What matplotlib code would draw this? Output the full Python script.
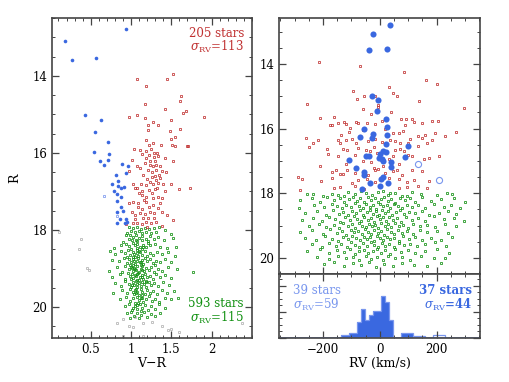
import numpy as np
import matplotlib
matplotlib.use("Agg")
from matplotlib import pyplot as plt
from matplotlib.ticker import MultipleLocator

plt.rcParams['font.family'] = ['DejaVu Serif']
plt.rcParams['mathtext.fontset'] = 'dejavuserif'

RED = '#c03030'
GREEN = '#109010'
BLUE = '#3a68e0'
LBLUE = '#7896ee'
GREY = '#a8a8a8'
AXC = '#444444'

# ---- left panel: colour-magnitude diagram (V-R, R) ----
cmd_red = [(1.07,14.09),(1.45,14.08),(1.52,13.95),(1.19,14.26),(1.62,14.52),(1.61,14.64),(1.17,14.74),
           (1.42,14.86),(1.68,14.91),(1.64,14.97),(0.98,15.06),(1.08,15.01),(1.17,15.09),(1.49,15.14),
           (1.91,15.06),(1.27,15.2),(1.21,15.28),(1.34,15.28),(1.21,15.4),(1.48,15.44),(1.61,15.39),
           (1.55,15.59),(1.18,15.67),(1.27,15.73),(1.5,15.65),(1.22,15.8),(1.37,15.8),(1.51,15.8),
           (1.55,15.82),(1.69,15.81),(1.71,15.83),(1.04,15.9),(1.11,15.92),(1.18,15.94),(1.25,15.9),
           (1.29,15.99),(1.32,16.0),(1.01,16.18),(1.14,16.04),(1.22,16.05),(1.28,16.1),(1.34,16.07),
           (1.42,16.14),(1.52,16.21),(1.07,16.33),(1.17,16.27),(1.23,16.31),(1.27,16.35),(1.31,16.32),
           (1.36,16.34),(1.11,16.4),(1.21,16.44),(1.26,16.5),(1.31,16.44),(1.38,16.48),(1.43,16.5),
           (0.97,16.48),(1.15,16.57),(1.3,16.61),(1.35,16.57),(1.31,16.7),(1.03,16.81),(1.12,16.8),
           (1.19,16.84),(1.27,16.81),(1.34,16.77),(1.4,16.81),(1.5,16.81),(1.05,16.92),(1.07,16.9),
           (1.14,17.0),(1.22,16.96),(1.3,16.94),(1.6,16.94),(1.73,16.92),(1.13,17.09),(1.19,17.13),
           (1.34,17.15),(1.38,17.18),(0.97,17.29),(1.03,17.26),(1.09,17.31),(1.19,17.26),(1.27,17.18),
           (1.36,17.31),(1.27,17.35),(1.01,17.52),(1.05,17.61),(1.11,17.57),(1.17,17.58),(1.23,17.52),
           (1.29,17.57),(1.39,17.52),(1.02,17.83),(1.07,17.81),(1.13,17.84),(1.19,17.8),(1.25,17.83),
           (1.31,17.78),(1.38,17.9),(1.52,17.74),(1.05,17.72),(1.21,17.7),(0.94,17.84),(1.24,16.2),
           (1.19,16.12),(1.3,16.22),(1.26,16.62),(1.2,16.68),(1.24,16.75),(1.36,16.66),(1.1,17.05),
           (1.26,17.05),(1.16,17.22),(1.22,17.4),(1.14,17.45),(1.33,17.43),(1.28,17.7),(1.15,17.68),
           (1.09,17.4),(1.45,17.62),(1.2,17.92),(1.32,16.9),(1.42,17.0)]

cmd_green = [(0.98,17.92),(1.03,17.95),(1.08,17.93),(1.12,17.97),(1.17,17.94),(1.22,17.98),(1.28,17.95),
             (1.35,17.93),(1.0,18.02),(1.05,18.05),(1.1,18.03),(1.14,18.07),(1.19,18.04),(1.25,18.08),
             (1.31,18.06),(0.95,18.08),(1.42,18.01),(1.49,18.09),
             (0.94,18.14),(0.99,18.12),(1.03,18.18),(1.06,18.13),(1.1,18.2),(1.14,18.15),(1.18,18.22),
             (1.23,18.16),(1.28,18.24),(1.34,18.18),(1.41,18.25),(1.01,18.26),(1.08,18.28),(1.13,18.27),
             (0.97,18.22),(1.21,18.29),(1.52,18.2),(0.9,18.3),(1.06,18.25),
             (0.88,18.38),(0.94,18.35),(0.98,18.42),(1.02,18.33),(1.05,18.4),(1.08,18.36),(1.11,18.44),
             (1.15,18.38),(1.19,18.45),(1.24,18.4),(1.3,18.35),(1.36,18.43),(1.44,18.46),(1.0,18.48),
             (1.07,18.47),(1.14,18.49),(1.21,18.34),(0.79,18.46),(1.56,18.44),(1.15,18.45),
             (0.8,18.62),(0.88,18.55),(0.92,18.6),(0.96,18.53),(0.99,18.66),(1.02,18.57),(1.04,18.62),
             (1.07,18.53),(1.09,18.67),(1.11,18.58),(1.14,18.64),(1.17,18.55),(1.2,18.68),(1.23,18.6),
             (1.27,18.65),(1.32,18.57),(1.38,18.63),(1.46,18.58),(1.55,18.68),(1.03,18.69),(1.08,18.6),
             (0.95,18.69),(0.74,18.55),(1.1,18.55),(1.05,18.7),
             (0.76,18.77),(0.85,18.8),(0.91,18.73),(0.95,18.85),(0.98,18.76),(1.0,18.82),(1.03,18.74),
             (1.05,18.88),(1.07,18.79),(1.09,18.72),(1.11,18.84),(1.13,18.77),(1.15,18.89),(1.17,18.73),
             (1.2,18.81),(1.23,18.76),(1.27,18.86),(1.31,18.79),(1.36,18.84),(1.42,18.75),(1.5,18.82),
             (1.04,18.81),(1.12,18.83),(0.99,18.9),(1.3,18.9),(1.12,18.9),(1.02,18.9),
             (0.73,19.05),(0.82,18.97),(0.89,19.08),(0.93,18.93),(0.97,19.02),(1.0,18.95),(1.02,19.07),
             (1.04,18.98),(1.06,19.04),(1.08,18.92),(1.1,19.09),(1.12,19.0),(1.14,18.94),(1.16,19.06),
             (1.19,18.98),(1.22,19.03),(1.25,18.95),(1.29,19.08),(1.33,19.0),(1.39,19.05),(1.46,18.96),
             (1.57,19.02),(1.77,19.08),(1.05,19.01),(1.13,19.03),(1.01,18.99),
             (0.76,19.22),(0.86,19.15),(0.92,19.27),(0.96,19.12),(0.99,19.2),(1.01,19.14),(1.03,19.25),
             (1.05,19.17),(1.07,19.29),(1.09,19.12),(1.11,19.21),(1.13,19.16),(1.15,19.27),(1.17,19.13),
             (1.2,19.23),(1.23,19.18),(1.27,19.26),(1.31,19.14),(1.36,19.22),(1.42,19.17),(1.5,19.25),
             (1.06,19.2),(1.14,19.22),(1.0,19.28),(1.08,19.15),(1.1,19.3),
             (0.8,19.38),(0.88,19.45),(0.93,19.33),(0.97,19.4),(1.0,19.47),(1.02,19.35),(1.04,19.42),
             (1.06,19.32),(1.08,19.48),(1.1,19.38),(1.12,19.44),(1.14,19.34),(1.16,19.41),(1.19,19.47),
             (1.22,19.36),(1.25,19.43),(1.29,19.38),(1.34,19.46),(1.4,19.35),(1.47,19.42),(1.07,19.4),
             (1.18,19.31),(1.01,19.43),(1.18,19.35),
             (0.78,19.62),(0.89,19.55),(0.95,19.63),(0.99,19.52),(1.02,19.6),(1.04,19.67),(1.06,19.54),
             (1.08,19.61),(1.1,19.68),(1.12,19.53),(1.14,19.6),(1.17,19.66),(1.2,19.55),(1.23,19.63),
             (1.27,19.58),(1.32,19.67),(1.38,19.56),(1.45,19.64),(1.53,19.57),(1.06,19.64),(1.13,19.69),
             (1.05,19.55),
             (0.86,19.8),(0.94,19.74),(0.99,19.85),(1.02,19.77),(1.05,19.88),(1.07,19.73),(1.1,19.82),
             (1.12,19.76),(1.15,19.87),(1.18,19.79),(1.22,19.72),(1.26,19.84),(1.3,19.78),(1.35,19.86),
             (1.42,19.75),(1.5,19.8),(1.58,19.77),(1.09,19.89),(1.14,19.75),
             (0.92,19.98),(0.98,19.93),(1.02,20.03),(1.05,19.96),(1.08,20.06),(1.11,19.92),(1.14,20.01),
             (1.17,19.95),(1.21,20.07),(1.25,19.97),(1.3,20.04),(1.35,19.93),(1.42,20.02),(1.01,20.08),
             (1.12,20.09),(1.07,19.95),
             (0.95,20.16),(1.0,20.12),(1.04,20.22),(1.08,20.14),(1.12,20.2),(1.16,20.13),(1.2,20.25),
             (1.25,20.17),(1.3,20.23),(1.36,20.15),(1.1,20.27),(0.99,20.28)]

cmd_blue = [(0.18,13.1),(0.27,13.59),(0.57,13.54),(0.94,12.79),(0.43,15.01),(0.63,15.14),(0.55,15.46),
            (0.71,15.72),(0.54,15.97),(0.73,16.03),(0.62,16.2),(0.71,16.18),(0.66,16.32),(0.89,16.29),
            (0.96,16.33),(0.94,16.51),(0.81,16.57),(0.84,16.72),(0.76,16.81),(0.84,16.87),(0.88,16.92),
            (0.91,16.89),(0.79,16.99),(0.82,17.07),(0.87,17.13),(0.83,17.25),(0.88,17.39),(0.82,17.52),
            (0.9,17.5),(0.86,17.72),(0.94,17.72),(0.92,17.83),(0.95,17.78),(0.83,17.81)]
cmd_blue_open = [(0.67,17.12),(0.82,17.64)]

cmd_grey = [(0.11,18.05),(0.38,18.22),(0.35,18.5),(0.45,18.98),(0.48,19.04),(0.82,20.4),(0.9,20.32),
            (0.97,20.48),(1.03,20.51),(1.15,20.42),(1.26,20.38),(1.38,20.48),(1.46,20.58),(1.5,20.57),
            (1.6,20.64),(2.38,20.41),(0.9,20.74),(1.15,20.74),(1.05,20.25)]

# ---- right panel: radial velocity vs R ----
rv_red = [(-215,13.94),(-68,14.07),(87,14.26),(162,14.5),(200,14.63),(32,14.72),(-93,14.85),(-55,15.0),
          (-16,14.99),(48,14.9),(62,15.0),(138,15.16),(-257,15.24),(295,15.37),(-80,15.08),(-7,15.27),
          (-7,15.33),(-161,15.64),(-210,15.67),(-148,15.83),(-175,15.88),(-167,15.9),(-126,15.8),
          (-119,15.86),(-85,15.8),(-78,15.82),(-46,15.83),(-16,15.86),(7,15.76),(25,15.7),(74,15.7),
          (94,15.7),(115,15.7),(89,15.88),(122,15.8),(148,15.83),(183,15.78),(204,15.78),(269,16.12),
          (-105,15.98),(-138,16.19),(-261,16.29),(-234,16.45),(-216,16.34),(-148,16.36),(-141,16.45),
          (-120,16.34),(-99,16.32),(-85,16.45),(-40,16.39),(-16,16.32),(7,16.43),(36,16.34),(54,16.39),
          (66,16.14),(48,16.14),(83,16.09),(107,16.32),(101,16.45),(72,16.45),(136,16.24),(148,16.29),
          (160,16.19),(183,16.34),(166,16.45),(195,16.14),(230,16.24),(-249,16.57),(-187,16.63),
          (-131,16.63),(-116,16.67),(-75,16.6),(-49,16.65),(-22,16.57),(54,16.67),(72,16.63),(136,16.55),
          (-181,16.78),(-146,16.86),(-89,16.81),(-11,16.75),(-5,16.91),(31,16.94),(48,16.86),(101,16.81),
          (115,16.86),(154,16.94),(174,16.91),(207,16.86),(-210,17.15),(-169,17.35),(-155,17.27),
          (-128,17.42),(-87,17.37),(-22,17.22),(-16,17.27),(-7,17.25),(13,17.17),(48,17.32),(60,17.29),
          (66,17.11),(113,17.27),(-116,17.27),(-75,17.58),(-99,17.68),(-46,17.56),(-16,17.66),(31,17.53),
          (66,17.56),(95,17.66),(119,17.58),(-287,17.5),(-275,17.56),(-207,17.61),(-169,17.53),
          (-140,17.42),(-163,17.84),(-140,17.8),(-281,17.89),(-87,17.78),(-54,17.87),(66,17.84),
          (96,17.8),(136,17.78),(166,17.84),(172,17.63),(-60,15.4),(-30,15.55),(40,15.5),(-110,16.1),
          (-60,16.05),(20,16.02),(-35,16.7),(85,16.7),(-60,17.0),(-30,17.05),(20,17.38),(-40,17.45),
          (80,17.45),(-120,17.1),(150,17.3)]

rv_green = [(-236,18.04),(-169,18.02),(-148,18.06),(-113,17.96),(-87,18.03),(-49,17.98),(-28,18.07),
            (-5,17.95),(28,18.05),(54,17.99),(80,18.08),(115,17.97),(146,18.04),(202,18.06),(236,17.98),
            (254,18.03),(-257,18.02),(-200,18.08),(-125,18.09),(-65,17.93),(10,17.94),(36,18.0),(95,18.09),
            (-280,18.22),(-240,18.15),(-210,18.27),(-185,18.12),(-160,18.2),(-140,18.14),(-125,18.26),
            (-110,18.18),(-95,18.12),(-80,18.24),(-68,18.16),(-55,18.28),(-42,18.13),(-30,18.21),
            (-18,18.15),(-6,18.27),(5,18.18),(16,18.12),(28,18.24),(40,18.17),(55,18.29),(70,18.14),
            (88,18.22),(105,18.16),(125,18.26),(150,18.13),(180,18.23),(215,18.18),(262,18.14),(301,18.28),
            (-285,18.47),(-230,18.36),(-195,18.44),(-170,18.33),(-150,18.41),(-132,18.47),(-118,18.35),
            (-100,18.43),(-86,18.31),(-74,18.39),(-60,18.46),(-48,18.34),(-36,18.42),(-24,18.37),
            (-12,18.48),(0,18.33),(12,18.41),(24,18.36),(36,18.45),(50,18.32),(64,18.4),(78,18.47),
            (96,18.35),(115,18.43),(135,18.38),(160,18.46),(190,18.34),(225,18.42),(250,18.37),(283,18.45),
            (-262,18.6),(-220,18.55),(-190,18.67),(-165,18.52),(-145,18.63),(-128,18.57),(-112,18.68),
            (-98,18.54),(-84,18.62),(-70,18.51),(-58,18.66),(-46,18.58),(-35,18.53),(-24,18.64),
            (-13,18.56),(-3,18.69),(8,18.52),(19,18.61),(30,18.55),(42,18.67),(56,18.59),(70,18.53),
            (86,18.65),(104,18.57),(125,18.62),(150,18.54),(175,18.66),(210,18.6),(240,18.55),(270,18.63),
            (-275,18.82),(-235,18.76),(-205,18.87),(-180,18.73),(-158,18.81),(-140,18.88),(-122,18.75),
            (-106,18.84),(-92,18.71),(-79,18.79),(-66,18.86),(-54,18.74),(-43,18.83),(-32,18.77),
            (-21,18.89),(-10,18.72),(0,18.8),(11,18.75),(22,18.86),(34,18.73),(46,18.82),(60,18.78),
            (75,18.88),(92,18.74),(112,18.83),(135,18.77),(160,18.86),(190,18.72),(225,18.81),(262,18.78),
            (295,18.85),
            (-250,19.0),(-215,18.94),(-188,19.06),(-162,18.97),(-145,19.08),(-128,18.93),(-113,19.02),
            (-99,18.96),(-86,19.07),(-73,18.92),(-61,19.0),(-49,19.05),(-38,18.94),(-27,19.03),(-16,18.98),
            (-5,19.08),(6,18.93),(17,19.01),(28,18.96),(40,19.06),(52,18.91),(66,19.02),(81,18.97),
            (98,19.07),(118,18.95),(140,19.03),(165,18.99),(195,19.05),(230,18.94),(270,19.02),
            (-281,19.2),(-238,19.15),(-200,19.26),(-175,19.12),(-152,19.22),(-134,19.17),(-118,19.28),
            (-103,19.13),(-90,19.21),(-77,19.16),(-64,19.27),(-52,19.11),(-41,19.19),(-30,19.25),
            (-19,19.14),(-8,19.22),(3,19.17),(14,19.28),(26,19.12),(38,19.2),(51,19.26),(65,19.15),
            (80,19.23),(97,19.18),(117,19.27),(140,19.13),(168,19.21),(200,19.16),(240,19.24),
            (-265,19.38),(-225,19.45),(-192,19.33),(-168,19.41),(-146,19.47),(-128,19.35),(-112,19.43),
            (-97,19.31),(-83,19.39),(-70,19.46),(-57,19.34),(-45,19.42),(-33,19.37),(-21,19.48),
            (-10,19.32),(1,19.4),(12,19.45),(24,19.35),(37,19.43),(51,19.38),(66,19.47),(83,19.33),
            (102,19.41),(125,19.36),(150,19.44),(180,19.39),(215,19.46),(255,19.34),
            (-240,19.58),(-205,19.65),(-178,19.53),(-155,19.62),(-135,19.56),(-117,19.67),(-101,19.52),
            (-86,19.6),(-72,19.66),(-58,19.55),(-45,19.63),(-32,19.51),(-19,19.59),(-6,19.68),(7,19.54),
            (20,19.62),(34,19.57),(49,19.66),(66,19.53),(85,19.61),(108,19.56),(132,19.64),(160,19.58),
            (195,19.52),(235,19.62),
            (-255,19.8),(-210,19.74),(-180,19.86),(-150,19.77),(-126,19.83),(-105,19.72),(-88,19.88),
            (-72,19.79),(-56,19.75),(-40,19.85),(-25,19.78),(-10,19.73),(5,19.84),(20,19.77),(37,19.87),
            (55,19.74),(75,19.82),(98,19.76),(125,19.86),(158,19.79),(200,19.73),(245,19.84),
            (-220,19.97),(-180,20.05),(-148,19.93),(-120,20.02),(-95,19.96),(-72,20.07),(-50,19.94),
            (-30,20.03),(-10,19.98),(10,20.06),(30,19.93),(52,20.01),(78,19.97),(108,20.06),(145,19.95),
            (190,20.02),(230,19.99),
            (-195,20.2),(-160,20.14),(-125,20.25),(-95,20.17),(-65,20.22),(-38,20.13),(-12,20.27),
            (15,20.18),(45,20.24),(80,20.15),(120,20.21),(165,20.26),(215,20.17)]

rv_blue = [(36,12.79),(-25,13.08),(-39,13.58),(26,13.54),(-29,15.0),(-6,15.12),(-10,15.45),(21,15.7),
           (24,15.95),(-57,16.0),(-25,16.16),(26,16.19),(-68,16.26),(-29,16.3),(21,16.49),(100,16.55),
           (13,16.7),(2,16.79),(-49,16.85),(-39,16.86),(89,16.87),(-1,16.9),(10,17.0),(38,17.05),
           (-109,16.98),(-84,17.22),(38,17.2),(-56,17.35),(-56,17.45),(11,17.51),(5,17.57),(-34,17.67),
           (28,17.7),(1,17.77),(-63,17.86),(7,16.95),(21,16.72)]
rv_blue_open = [(134,17.1),(210,17.6)]

# ---- histogram of the blue stars' RV ----
hist_edges = np.arange(-135, 230, 14)
hist_filled = [1, 1, 2, 2, 6, 11, 7, 9, 10.5, 10.5, 16, 14, 7, 0, 0, 2, 2, 2, 0, 0, 0, 0, 0, 0, 0, 0]
hist_open = [1, 1, 2, 2, 6, 11, 7, 9, 10.5, 10.5, 16, 14, 7, 0, 0, 2, 2, 2, 0.8, 0.8, 0.8, 0, 0, 1, 1, 1]


def xy(pairs):
    a = np.array(pairs, dtype=float)
    return a[:, 0], a[:, 1]


def style(ax):
    for s in ax.spines.values():
        s.set_color(AXC)
        s.set_linewidth(1.2)
    ax.tick_params(which='both', direction='in', top=True, right=True, colors=AXC,
                   labelcolor='black', labelsize=8.5)
    ax.tick_params(which='major', length=5, width=0.9)
    ax.tick_params(which='minor', length=2.5, width=0.7)


fig = plt.figure(figsize=(5.1, 3.82), dpi=100)
ax1 = fig.add_axes([52/510, 44/382, 200/510, 320/382])
ax2 = fig.add_axes([279/510, 108/382, 201/510, 256/382])
ax3 = fig.add_axes([279/510, 44/382, 201/510, 64/382])

sq = dict(ls='none', marker='s', ms=2.0, mfc='none', mew=0.55)

# left panel
x, y = xy(cmd_grey)
ax1.plot(x, y, ls='none', marker='s', ms=1.4, mfc='none', mew=0.5, color=GREY)
x, y = xy(cmd_green)
ax1.plot(x, y, color=GREEN, **sq)
x, y = xy(cmd_red)
ax1.plot(x, y, color=RED, **sq)
x, y = xy(cmd_blue)
ax1.plot(x, y, ls='none', marker='o', ms=2.6, mew=0, color=BLUE)
x, y = xy(cmd_blue_open)
ax1.plot(x, y, ls='none', marker='s', ms=2.0, mfc='none', mew=0.55, color=LBLUE)
ax1.set_xlim(0.02, 2.5)
ax1.set_ylim(20.8, 12.5)
ax1.xaxis.set_minor_locator(MultipleLocator(0.1))
ax1.yaxis.set_major_locator(MultipleLocator(2))
ax1.yaxis.set_minor_locator(MultipleLocator(0.5))
ax1.set_xticks([0.5, 1, 1.5, 2])
ax1.set_xticklabels(['0.5', '1', '1.5', '2'])
style(ax1)
ax1.set_xlabel('V\u2212R', fontsize=9, labelpad=1)
ax1.set_ylabel('R', fontsize=9, labelpad=8)
ax1.text(0.96, 0.952, '205 stars', color=RED, fontsize=8.5, ha='right', va='center', transform=ax1.transAxes)
ax1.text(0.96, 0.908, r'$\sigma_{\rm RV}$=113', color=RED, fontsize=8.5, ha='right', va='center', transform=ax1.transAxes)
ax1.text(0.96, 0.108, '593 stars', color=GREEN, fontsize=8.5, ha='right', va='center', transform=ax1.transAxes)
ax1.text(0.96, 0.062, r'$\sigma_{\rm RV}$=115', color=GREEN, fontsize=8.5, ha='right', va='center', transform=ax1.transAxes)

# right upper panel
x, y = xy(rv_green)
ax2.plot(x, y, color=GREEN, **sq)
x, y = xy(rv_red)
ax2.plot(x, y, color=RED, **sq)
x, y = xy(rv_blue)
ax2.plot(x, y, ls='none', marker='o', ms=4.4, mew=0, color=BLUE)
x, y = xy(rv_blue_open)
ax2.plot(x, y, ls='none', marker='o', ms=4.4, mfc='none', mew=0.8, color=LBLUE)
ax2.set_xlim(-355, 353)
ax2.set_ylim(20.5, 12.58)
ax2.xaxis.set_major_locator(MultipleLocator(200))
ax2.xaxis.set_minor_locator(MultipleLocator(50))
ax2.yaxis.set_major_locator(MultipleLocator(2))
ax2.yaxis.set_minor_locator(MultipleLocator(0.5))
style(ax2)
ax2.tick_params(labelbottom=False)

# right lower panel: histogram
ax3.stairs(hist_filled, hist_edges, fill=True, color=BLUE, lw=0)
ax3.stairs(hist_open, hist_edges, color=LBLUE, lw=0.9)
ax3.axhline(0, color=LBLUE, lw=1.2)
ax3.set_xlim(-355, 353)
ax3.set_ylim(0, 24.6)
ax3.xaxis.set_major_locator(MultipleLocator(200))
ax3.xaxis.set_minor_locator(MultipleLocator(50))
ax3.yaxis.set_major_locator(MultipleLocator(10))
ax3.yaxis.set_minor_locator(MultipleLocator(2.5))
style(ax3)
ax3.tick_params(labelleft=False)
ax3.set_xlabel('RV (km/s)', fontsize=9, labelpad=1)
ax3.text(0.07, 0.75, '39 stars', color=LBLUE, fontsize=8.5, ha='left', va='center', transform=ax3.transAxes)
ax3.text(0.07, 0.52, r'$\sigma_{\rm RV}$=59', color=LBLUE, fontsize=8.5, ha='left', va='center', transform=ax3.transAxes)
ax3.text(0.96, 0.75, '37 stars', color=BLUE, fontsize=8.5, ha='right', va='center', fontweight='bold', transform=ax3.transAxes)
ax3.text(0.96, 0.52, r'$\sigma_{\rm RV}$=44', color=BLUE, fontsize=8.5, ha='right', va='center', fontweight='bold', transform=ax3.transAxes)

fig.savefig('out.png', dpi=100)
